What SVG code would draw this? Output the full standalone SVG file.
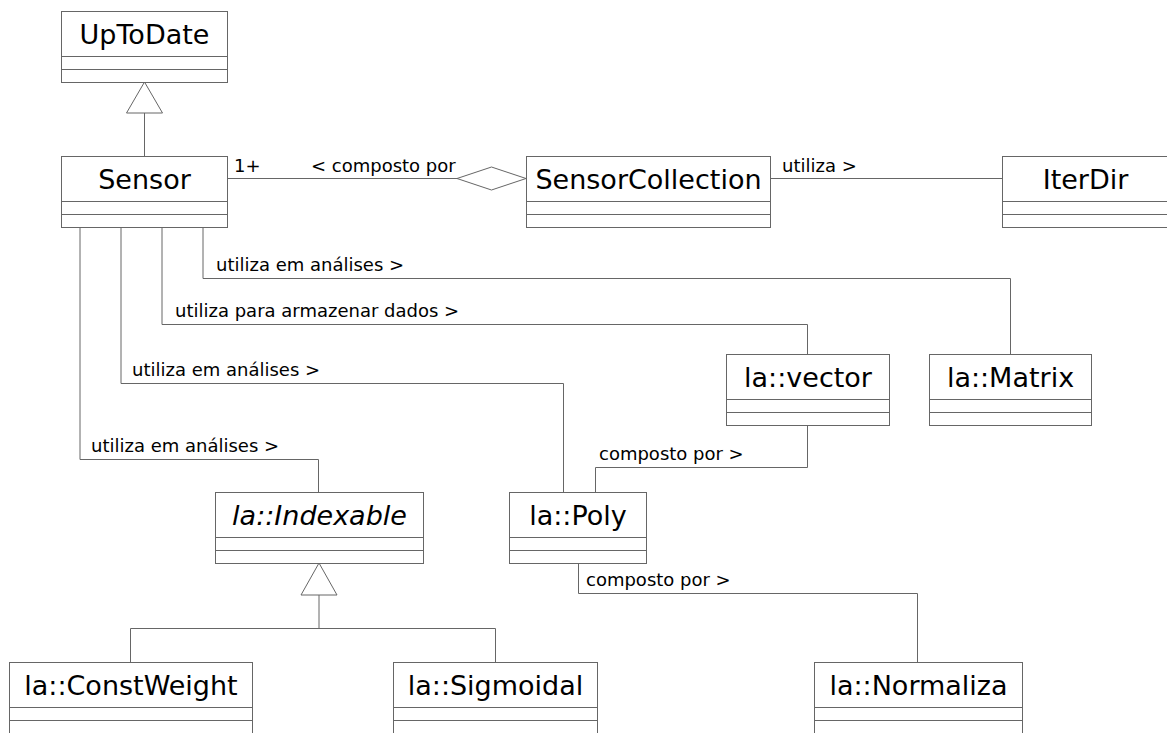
<svg xmlns="http://www.w3.org/2000/svg" width="1167" height="733" viewBox="0 0 1167 733">
<style>
.box{fill:#fff;stroke:#666;stroke-width:1}
.div{stroke:#666;stroke-width:1;fill:none}
.name{font-family:"DejaVu Sans",sans-serif;font-size:27px;fill:#000;text-anchor:middle}
.it{font-style:italic}
.lbl{font-family:"DejaVu Sans",sans-serif;font-size:18px;fill:#000}
.ln{fill:none;stroke:#666;stroke-width:1}
.tri{fill:#fff;stroke:#666;stroke-width:1}
</style>
<rect width="1167" height="733" fill="#fff"/>
<g id="connectors">
<polyline class="ln" points="144.5,113 144.5,156"/>
<polygon class="tri" points="144.5,82 126.5,113 162.5,113"/>
<polyline class="ln" points="227,178.5 457,178.5"/>
<polygon class="tri" points="457,178.5 491.5,167 526,178.5 491.5,190"/>
<polyline class="ln" points="771,178.5 1002,178.5"/>
<polyline class="ln" points="203,227 203,278.5 1010.5,278.5 1010.5,354"/>
<polyline class="ln" points="162,227 162,324.5 807.5,324.5 807.5,354"/>
<polyline class="ln" points="121,227 121,383.5 563.5,383.5 563.5,492"/>
<polyline class="ln" points="80,227 80,459.5 318.5,459.5 318.5,492"/>
<polyline class="ln" points="807.5,425 807.5,467.5 595.5,467.5 595.5,492"/>
<polyline class="ln" points="578.5,563 578.5,593.5 917.5,593.5 917.5,662"/>
<polyline class="ln" points="319,595 319,628.5"/>
<polygon class="tri" points="319,563 301,595 337,595"/>
<polyline class="ln" points="130.5,662 130.5,628.5 495.5,628.5 495.5,662"/>
<text class="lbl" x="234" y="172">1+</text>
<text class="lbl" x="311" y="172">&lt; composto por</text>
<text class="lbl" x="782" y="172">utiliza &gt;</text>
<text class="lbl" x="216" y="271">utiliza em análises &gt;</text>
<text class="lbl" x="175" y="317">utiliza para armazenar dados &gt;</text>
<text class="lbl" x="132" y="376">utiliza em análises &gt;</text>
<text class="lbl" x="91" y="452">utiliza em análises &gt;</text>
<text class="lbl" x="599" y="460">composto por &gt;</text>
<text class="lbl" x="586" y="586">composto por &gt;</text>
</g>
<g id="UpToDate">
<rect class="box" x="61.5" y="11.5" width="166" height="71"/>
<path class="div" d="M61.5 56.5H227.5M61.5 69.5H227.5"/>
<text class="name" x="144.5" y="44">UpToDate</text>
</g>
<g id="Sensor">
<rect class="box" x="61.5" y="156.5" width="166" height="71"/>
<path class="div" d="M61.5 201.5H227.5M61.5 214.5H227.5"/>
<text class="name" x="144.5" y="189">Sensor</text>
</g>
<g id="SensorCollection">
<rect class="box" x="526.5" y="156.5" width="244" height="71"/>
<path class="div" d="M526.5 201.5H770.5M526.5 214.5H770.5"/>
<text class="name" x="648.5" y="189">SensorCollection</text>
</g>
<g id="IterDir">
<rect class="box" x="1002.5" y="156.5" width="166" height="71"/>
<path class="div" d="M1002.5 201.5H1168.5M1002.5 214.5H1168.5"/>
<text class="name" x="1085.5" y="189">IterDir</text>
</g>
<g id="la_vector">
<rect class="box" x="726.5" y="354.5" width="163" height="71"/>
<path class="div" d="M726.5 399.5H889.5M726.5 412.5H889.5"/>
<text class="name" x="808" y="387">la::vector</text>
</g>
<g id="la_Matrix">
<rect class="box" x="929.5" y="354.5" width="162" height="71"/>
<path class="div" d="M929.5 399.5H1091.5M929.5 412.5H1091.5"/>
<text class="name" x="1010.5" y="387">la::Matrix</text>
</g>
<g id="la_Poly">
<rect class="box" x="509.5" y="492.5" width="137" height="71"/>
<path class="div" d="M509.5 537.5H646.5M509.5 550.5H646.5"/>
<text class="name" x="578" y="525">la::Poly</text>
</g>
<g id="la_Indexable">
<rect class="box" x="215.5" y="492.5" width="208" height="71"/>
<path class="div" d="M215.5 537.5H423.5M215.5 550.5H423.5"/>
<text class="name it" x="319.5" y="525">la::Indexable</text>
</g>
<g id="la_ConstWeight">
<rect class="box" x="9.5" y="662.5" width="243" height="71"/>
<path class="div" d="M9.5 707.5H252.5M9.5 720.5H252.5"/>
<text class="name" x="131" y="695">la::ConstWeight</text>
</g>
<g id="la_Sigmoidal">
<rect class="box" x="393.5" y="662.5" width="204" height="71"/>
<path class="div" d="M393.5 707.5H597.5M393.5 720.5H597.5"/>
<text class="name" x="495.5" y="695">la::Sigmoidal</text>
</g>
<g id="la_Normaliza">
<rect class="box" x="814.5" y="662.5" width="208" height="71"/>
<path class="div" d="M814.5 707.5H1022.5M814.5 720.5H1022.5"/>
<text class="name" x="918.5" y="695">la::Normaliza</text>
</g>
</svg>
